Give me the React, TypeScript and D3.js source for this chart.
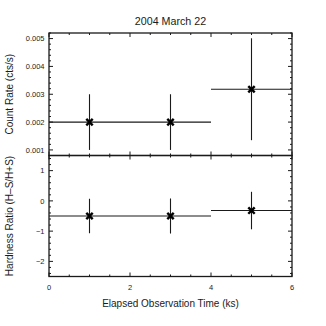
import * as d3 from "d3";

// light curve, 2 ks bins
const title = "2004 March 22";
const binCentres = [1, 3, 5];
const binHalfWidths = [1, 1, 1];
const countRate = [0.002, 0.002, 0.00318];
const countRateErr = [0.001, 0.001, 0.00183];
const hardness = [-0.5, -0.5, -0.32];
const hardnessErr = [0.57, 0.58, 0.62];

const xTicks = [0, 2, 4, 6];
const rateTicks = [0.001, 0.002, 0.003, 0.004, 0.005];
const hrTicks = [-2, -1, 0, 1];

const W = 326;
const H = 326;
const left = 49;
const right = 292;
const top = 33;
const mid = 155.5;
const bottom = 276.5;
const ink = "#1a1a1a";
const font = "'Liberation Sans', Arial, Helvetica, sans-serif";

const x = d3.scaleLinear().domain([0, 6]).range([left, right]);
const yRate = d3.scaleLinear().domain([0.0008, 0.0052]).range([mid, top]);
const yHr = d3.scaleLinear().domain([-2.5, 1.5]).range([bottom, mid]);

const fmtRate = d3.format(".3f");
const fmtHr = (v: number) => (v < 0 ? "\u2212" + Math.abs(v) : String(v));

const isMajor = (v: number, step: number) =>
  Math.abs(v / step - Math.round(v / step)) < 1e-6;

function Frame({ y, y0, y1, minorStep, majorStep }: any) {
  const xMinor = d3.range(0, 6.0001, 0.5);
  const yAll: number[] = [];
  const start = Math.ceil(y.domain()[0] / minorStep - 1e-6);
  const end = Math.floor(y.domain()[1] / minorStep + 1e-6);
  for (let k = start; k <= end; k++) yAll.push(k * minorStep);
  return (
    <g stroke={ink} fill="none">
      <rect x={left} y={y1} width={right - left} height={y0 - y1} strokeWidth={1.3} />
      {xMinor.map((v, i) => {
        const len = isMajor(v, 2) ? 4 : 2;
        return (
          <g key={"x" + i} strokeWidth={1}>
            <line x1={x(v)} x2={x(v)} y1={y0} y2={y0 - len} />
            <line x1={x(v)} x2={x(v)} y1={y1} y2={y1 + len} />
          </g>
        );
      })}
      {yAll.map((v, i) => {
        const len = isMajor(v, majorStep) ? 4 : 2;
        return (
          <g key={"y" + i} strokeWidth={1}>
            <line x1={left} x2={left + len} y1={y(v)} y2={y(v)} />
            <line x1={right} x2={right - len} y1={y(v)} y2={y(v)} />
          </g>
        );
      })}
    </g>
  );
}

function Cross({ cx, cy }: { cx: number; cy: number }) {
  const s = 3.2;
  return (
    <g stroke="#000" strokeWidth={2.4}>
      <line x1={cx - s} y1={cy - s} x2={cx + s} y2={cy + s} />
      <line x1={cx - s} y1={cy + s} x2={cx + s} y2={cy - s} />
    </g>
  );
}

function Points({ y, values, errs }: any) {
  return (
    <g>
      {binCentres.map((c, i) => (
        <g key={i}>
          <line
            x1={x(c - binHalfWidths[i])}
            x2={x(c + binHalfWidths[i])}
            y1={y(values[i])}
            y2={y(values[i])}
            stroke={ink}
            strokeWidth={1.1}
          />
          <line
            x1={x(c)}
            x2={x(c)}
            y1={y(values[i] - errs[i])}
            y2={y(values[i] + errs[i])}
            stroke={ink}
            strokeWidth={1.1}
          />
          <Cross cx={x(c)} cy={y(values[i])} />
        </g>
      ))}
    </g>
  );
}

export default function App() {
  return (
    <svg
      width={W}
      height={H}
      style={{ position: "absolute", left: 0, top: 0, background: "#fff" }}
      fontFamily={font}
    >
      <rect width={W} height={H} fill="#fff" />
      <text x={(left + right) / 2} y={25} textAnchor="middle" fontSize={10.7} fill={ink}>
        {title}
      </text>

      <Points y={yRate} values={countRate} errs={countRateErr} />
      <Points y={yHr} values={hardness} errs={hardnessErr} />

      <Frame y={yRate} y0={mid} y1={top} minorStep={0.0002} majorStep={0.001} />
      <Frame y={yHr} y0={bottom} y1={mid} minorStep={0.2} majorStep={1} />

      {rateTicks.map((t) => (
        <text key={t} x={44.5} y={yRate(t) + 2.8} textAnchor="end" fontSize={7.5} fill={ink}>
          {fmtRate(t)}
        </text>
      ))}
      {hrTicks.map((t) => (
        <text key={t} x={44.5} y={yHr(t) + 2.8} textAnchor="end" fontSize={7.5} fill={ink}>
          {fmtHr(t)}
        </text>
      ))}
      {xTicks.map((t) => (
        <text key={t} x={x(t)} y={290} textAnchor="middle" fontSize={7.5} fill={ink}>
          {t}
        </text>
      ))}

      <text
        transform={`translate(13, ${(top + mid) / 2}) rotate(-90)`}
        textAnchor="middle"
        fontSize={10}
        fill={ink}
      >
        Count Rate (cts/s)
      </text>
      <text
        transform={`translate(13, ${(mid + bottom) / 2}) rotate(-90)`}
        textAnchor="middle"
        fontSize={10}
        fill={ink}
      >
        Hardness Ratio (H–S/H+S)
      </text>
      <text x={(left + right) / 2} y={307} textAnchor="middle" fontSize={10} fill={ink}>
        Elapsed Observation Time (ks)
      </text>
    </svg>
  );
}
